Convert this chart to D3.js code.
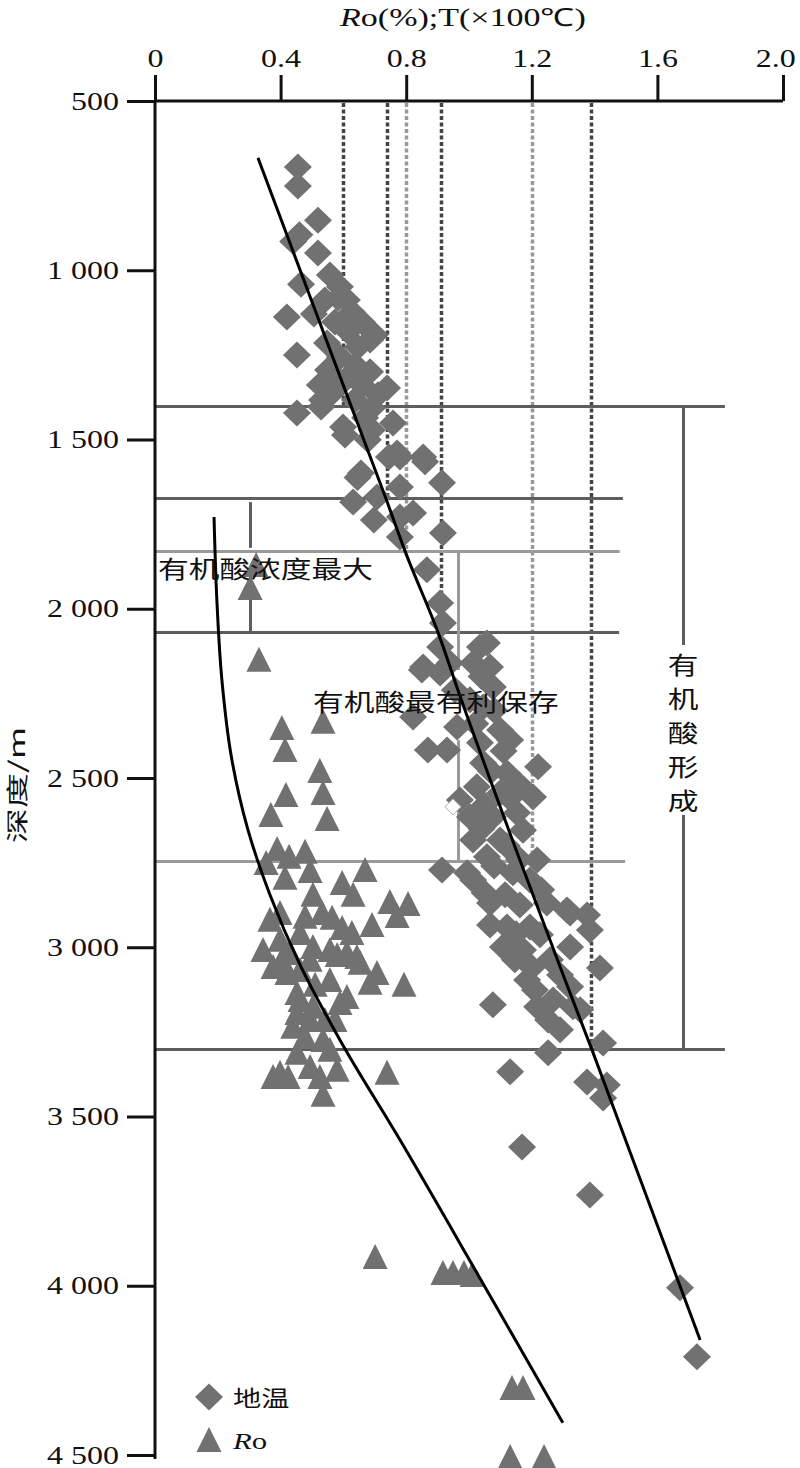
<!DOCTYPE html>
<html><head><meta charset="utf-8">
<script src="https://cdn.jsdelivr.net/npm/d3@7"></script>
<style>
html,body{margin:0;padding:0;background:#fff;}
svg{display:block;}
</style></head>
<body>
<svg id="chart" width="800" height="1468"></svg>
<script>
// ---------- data ----------
const xTicks = [0, 0.4, 0.8, 1.2, 1.6, 2.0];
const xTickLabels = ["0", "0.4", "0.8", "1.2", "1.6", "2.0"];
const yTicks = [500, 1000, 1500, 2000, 2500, 3000, 3500, 4000, 4500];
const yTickLabels = ["500", "1 000", "1 500", "2 000", "2 500", "3 000", "3 500", "4 000", "4 500"];

// 地温 (T, x100 °C) vs depth (m)
const tempPoints = [
 [0.455,695],[0.455,751],[0.519,852],[0.44,915],[0.46,895],[0.519,949],[0.465,1041],[0.42,1138],
 [0.506,1129],[0.589,1049],[0.611,1088],[0.452,1250],[0.548,1215],[0.685,1206],[0.739,1348],[0.452,1422],
 [0.532,1383],[0.599,1463],[0.758,1451],[0.771,1540],[0.854,1552],
 [0.557,1014],[0.583,1082],[0.627,1123],[0.659,1153],[0.70,1191],[0.573,1153],[0.615,1182],[0.646,1227],
 [0.589,1256],[0.637,1280],[0.685,1300],[0.551,1295],[0.605,1324],[0.659,1339],[0.71,1368],[0.525,1339],
 [0.567,1360],[0.637,1383],[0.691,1407],[0.669,1436],[0.541,1088],
 [0.529,1404],[0.691,1472],[0.678,1501],[0.605,1487],[0.86,1566],[0.914,1628],[0.656,1599],[0.645,1612],
 [0.78,1552],[0.745,1552],[0.631,1685],[0.707,1670],[0.78,1640],[0.697,1738],[0.78,1729],[0.822,1717],
 [0.917,1776],[0.78,1788],[0.866,1885],[0.908,1983],[0.917,2042],[0.908,2113],[0.854,2172],[0.939,2160],
 [1.057,2101],[1.013,2160],[0.822,2320],
 [0.85,2181],[1.035,2113],[1.067,2172],[0.908,2190],[1.076,2231],[1.045,2290],[0.962,2349],[1.099,2358],
 [0.869,2417],[0.93,2417],[1.035,2396],[1.131,2388],[1.045,2456],[1.121,2485],[1.22,2467],[1.204,2556],
 [1.025,2526],[1.099,2544],[1.003,2615],[1.076,2615],[1.153,2603],[1.013,2683],[1.099,2683],[1.057,2733],
 [1.217,2742],[0.914,2772],[0.994,2780],[1.14,2780],[0.955,2240],[1.003,2269],[0.971,2565],[1.172,2654],
 [1.013,2801],[1.194,2801],[1.067,2869],[1.248,2869],[1.322,2899],[1.376,2905],[1.385,2949],[1.121,2940],
 [1.194,2940],[1.108,2999],[1.172,3008],[1.322,2999],[1.258,3037],[1.417,3061],[1.185,3097],[1.322,3117],
 [1.076,3170],[1.217,3176],[1.331,3176],[1.268,3156],[1.427,3283],[1.252,3312],[1.131,3368],[1.376,3398],
 [1.439,3407],[1.427,3445],[1.169,3590],[1.385,3732],[1.672,4006],[1.726,4210],
 [1.312,2890],[1.115,2845],[1.162,2875],[1.146,3037],[1.226,2963],[1.21,3126],[1.29,3082],[1.252,3215],
 [1.354,3185],[1.29,3244],[1.067,2934],
 [1.04,2200],[1.08,2300],[1.02,2340],[1.11,2420],[1.07,2480],[1.16,2520],[1.05,2580],[1.13,2560],
 [1.04,2650],[1.12,2700],[1.08,2760],[1.16,2740],[1.05,2840],[1.23,2830],[1.15,2960],[1.20,3060]
];
const hollowPoints = [[0.949,2585]];

// Ro (%) vs depth (m)
const roPoints = [
 [0.322,1871],[0.303,1939],[0.331,2151],[0.404,2352],[0.414,2417],[0.535,2334],[0.525,2479],[0.535,2544],
 [0.417,2550],[0.369,2609],[0.548,2621],[0.389,2710],[0.354,2751],[0.478,2718],[0.427,2733],[0.414,2795],
 [0.494,2775],[0.669,2772],[0.596,2810],[0.631,2845],[0.503,2845],[0.748,2866],[0.806,2872],[0.771,2908],
 [0.691,2934],[0.366,2919],[0.398,2899],[0.478,2910],[0.532,2899],[0.564,2913],[0.596,2943],[0.627,2958],
 [0.462,2958],[0.344,3008],[0.398,2978],[0.43,3017],[0.503,2999],[0.557,3008],[0.611,3017],[0.653,3046],
 [0.707,3076],[0.793,3111],[0.376,3058],[0.462,3067],[0.404,3037],[0.494,3037],[0.58,3023],[0.643,3029],
 [0.42,3076],[0.557,3097],[0.452,3135],[0.611,3147],[0.589,3165],[0.685,3105],[0.452,3194],[0.503,3176],
 [0.439,3235],[0.478,3265],[0.535,3274],[0.557,3303],[0.452,3312],[0.398,3371],[0.424,3383],[0.494,3354],
 [0.525,3383],[0.58,3362],[0.739,3371],[0.535,3436],[0.376,3383],
 [0.462,3156],[0.541,3215],[0.494,3215],[0.573,3215],[0.51,3111],
 [0.701,3915],[0.917,3962],[0.949,3962],[0.984,3962],[1.01,3968],[1.137,4302],[1.172,4302],
 [1.131,4506],[1.239,4506]
];

// trend curves
const tempTrend = [[0.328,668],[0.624,1400],[0.736,1676],[0.796,1829],[0.901,2069],[0.968,2249],
 [1.162,2742],[1.306,3097],[1.392,3304],[1.522,3628],[1.736,4160]];
const roTrend = [[0.188,1729],[0.197,1974],[0.213,2210],[0.245,2447],[0.296,2653],[0.366,2845],
 [0.462,3052],[0.589,3274],[0.78,3569],[1.029,3968],[1.299,4405]];

// threshold dotted verticals (value, end depth, tone)
const dotValues = [0.6, 0.74, 0.8, 0.91, 1.2, 1.39];
const dotEnds = [1400, 1673, 1830, 2070, 2745, 3300];
const dotTones = ["dark", "dark", "light", "dark", "light", "dark"];

// horizontal boundary lines (depth, right end value, tone)
const hDepths = [1400, 1673, 1830, 2070, 2745, 3300];
const hEnds = [1.815, 1.49, 1.48, 1.478, 1.497, 1.815];
const hTones = ["dark", "dark", "light", "dark", "light", "dark"];

// bracket segments [x value, depth from, depth to, tone]
const bracketX = [1.682, 1.682, 0.3025, 0.3025, 0.965, 0.965];
const bracketFrom = [1400, 2609, 1685, 1900, 1830, 2388];
const bracketTo = [2107, 3300, 1820, 2070, 2181, 2745];
const bracketTone = ["dark", "dark", "dark", "dark", "light", "light"];

// ---------- drawing ----------
const svg = d3.select("#chart");
const x = d3.scaleLinear().domain([0, 2]).range([155, 783]);
const y = d3.scaleLinear().domain([500, 4500]).range([101, 1455]);
const px = v => Math.round(x(v)) + 0.5;

const DARK = "#5e5e5e", LIGHT = "#9a9a9a", MARK = "#717171";
const tone = t => t === "dark" ? DARK : LIGHT;
const SX = 1.28; // horizontal text stretch of the original figure
const cjk = "'Noto Sans CJK SC','Noto Sans CJK JP',sans-serif";
const serif = "'Liberation Serif','Times New Roman',serif";

// dotted verticals
svg.append("g").selectAll("line").data(dotValues).join("line")
  .attr("x1", d => px(d)).attr("x2", d => px(d))
  .attr("y1", y(500) + 2).attr("y2", (d, i) => y(dotEnds[i]))
  .attr("stroke", (d, i) => dotTones[i] === "dark" ? "#444" : "#999")
  .attr("stroke-width", 3.5).attr("stroke-dasharray", "4,2.5");

// horizontal boundaries
svg.append("g").selectAll("line").data(hDepths).join("line")
  .attr("x1", x(0)).attr("x2", (d, i) => x(hEnds[i]))
  .attr("y1", d => Math.round(y(d)) + 0.5).attr("y2", d => Math.round(y(d)) + 0.5)
  .attr("stroke", (d, i) => tone(hTones[i])).attr("stroke-width", 3);

// bracket verticals
svg.append("g").selectAll("line").data(bracketX).join("line")
  .attr("x1", d => px(d)).attr("x2", d => px(d))
  .attr("y1", (d, i) => y(bracketFrom[i])).attr("y2", (d, i) => y(bracketTo[i]))
  .attr("stroke", (d, i) => tone(bracketTone[i])).attr("stroke-width", 3);

// markers
const diamond = "M0,-13.5L14,0L0,13.5L-14,0Z";
const tri = "M0,-13L12.5,12L-12.5,12Z";
svg.append("g").selectAll("path").data(roPoints).join("path")
  .attr("d", tri).attr("fill", MARK)
  .attr("transform", d => `translate(${x(d[0])},${y(d[1])})`);
svg.append("g").selectAll("path").data(tempPoints).join("path")
  .attr("d", diamond).attr("fill", MARK)
  .attr("transform", d => `translate(${x(d[0])},${y(d[1])})`);
svg.append("g").selectAll("path").data(hollowPoints).join("path")
  .attr("d", "M0,-8L8,0L0,8L-8,0Z").attr("fill", "#fff").attr("stroke", "#aaa").attr("stroke-width", 1)
  .attr("transform", d => `translate(${x(d[0])},${y(d[1])})`);

// trend curves
const line = d3.line().x(d => x(d[0])).y(d => y(d[1])).curve(d3.curveMonotoneY);
svg.append("path").datum(tempTrend).attr("d", line).attr("fill", "none").attr("stroke", "#000").attr("stroke-width", 3);
svg.append("path").datum(roTrend).attr("d", line).attr("fill", "none").attr("stroke", "#000").attr("stroke-width", 3);

// axes
const xAxis = d3.axisTop(x).tickValues(xTicks).tickSize(26).tickPadding(8)
  .tickFormat((d, i) => xTickLabels[i]);
const gx = svg.append("g").attr("transform", `translate(0,${y(500)})`).call(xAxis);
gx.select(".domain").attr("stroke", "#111").attr("stroke-width", 3).attr("d", `M${x(0)},0H${x(2)}`);
gx.selectAll(".tick line").attr("stroke", "#111").attr("stroke-width", 3);
gx.selectAll(".tick text").attr("font-family", serif).attr("font-size", 25).attr("fill", "#111")
  .attr("x", (d, i) => i === xTicks.length - 1 ? -6 : 0)
  .attr("transform", `scale(${SX},1)`);

const yAxis = d3.axisLeft(y).tickValues(yTicks).tickSize(28).tickPadding(8)
  .tickFormat((d, i) => yTickLabels[i]);
const gy = svg.append("g").attr("transform", `translate(${x(0)},0)`).call(yAxis);
gy.select(".domain").attr("stroke", "#111").attr("stroke-width", 3).attr("d", `M0,${y(500)}V${y(4500) + 4}`);
gy.selectAll(".tick line").attr("stroke", "#111").attr("stroke-width", 3);
gy.selectAll(".tick text").attr("font-family", serif).attr("font-size", 25).attr("fill", "#111")
  .attr("x", -36 / SX).attr("transform", `scale(${SX},1)`);

// title
const title = svg.append("text").attr("transform", `translate(463,26) scale(1.36,1)`)
  .attr("text-anchor", "middle").attr("font-family", serif).attr("font-size", 25).attr("fill", "#111");
title.append("tspan").attr("font-style", "italic").text("R");
title.append("tspan").text("o(%);T(×100℃)");

// y label
svg.append("text").attr("transform", "translate(25,785) rotate(-90) scale(1.35,0.85)")
  .attr("text-anchor", "middle").attr("font-family", cjk).attr("font-size", 26).attr("fill", "#111")
  .text("深度/m");

// annotations
svg.append("text").attr("transform", `translate(158,578) scale(${SX},1)`)
  .attr("font-family", cjk).attr("font-size", 24).attr("fill", "#111").text("有机酸浓度最大");
svg.append("text").attr("transform", `translate(313,711) scale(${SX},1)`)
  .attr("font-family", cjk).attr("font-size", 24).attr("fill", "#111").text("有机酸最有利保存");
const vText = ["有", "机", "酸", "形", "成"];
svg.append("g").selectAll("text").data(vText).join("text")
  .attr("transform", (d, i) => `translate(${x(1.682)},${y(2170) + i * 34 + 8}) scale(${SX},1)`)
  .attr("text-anchor", "middle").attr("font-family", cjk).attr("font-size", 24).attr("fill", "#111")
  .text(d => d);

// legend
svg.append("path").attr("d", diamond).attr("fill", MARK).attr("transform", "translate(209,1397)");
svg.append("path").attr("d", tri).attr("fill", MARK).attr("transform", "translate(209,1440)");
svg.append("text").attr("transform", `translate(233,1406) scale(${SX},1)`)
  .attr("font-family", cjk).attr("font-size", 22).attr("fill", "#111").text("地温");
const lg = svg.append("text").attr("transform", `translate(233,1449) scale(${SX},1)`)
  .attr("font-family", serif).attr("font-size", 24).attr("fill", "#111");
lg.append("tspan").attr("font-style", "italic").text("R");
lg.append("tspan").text("o");
</script>
</body></html>
